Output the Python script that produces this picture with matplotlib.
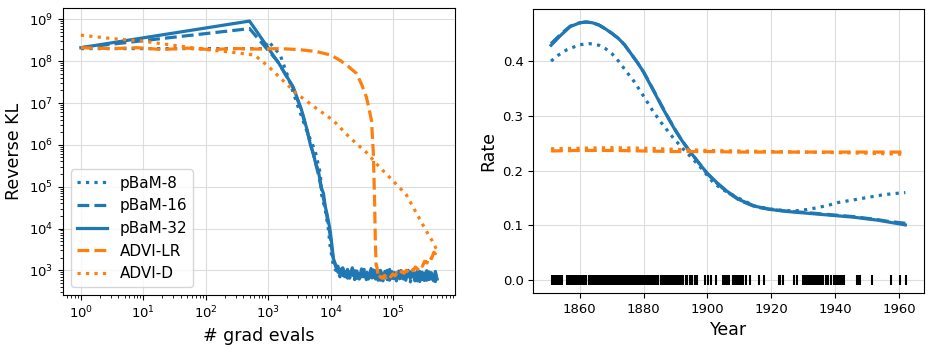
import numpy as np
import matplotlib.pyplot as plt
from matplotlib.ticker import NullFormatter

#####################################################################################################
# Left panel: reverse KL vs number of gradient evaluations

blue = "#1f77b4"
orange = "#ff7f0e"

# pBaM-32 (solid)
p32_x = [1, 500, 1500, 2500, 3400, 4200, 4700, 5300, 5600, 6300, 7100, 7600, 8100, 8800, 9800, 11000, 12000]
p32_y = [2.1e8, 9.1e8, 8.5e7, 2.4e7, 6.8e6, 2.2e6, 1.0e6, 6.0e5, 4.0e5, 2.4e5, 9.0e4, 7.0e4, 3.5e4, 2.0e4, 8.5e3, 1.9e3, 1.3e3]

# pBaM-16 (dashed)
p16_x = [1, 500, 1400, 2400, 3300, 4500, 5400, 6200, 7200, 8200, 9500, 10800, 12000]
p16_y = [2.1e8, 6.0e8, 1.0e8, 2.6e7, 7.5e6, 1.4e6, 5.0e5, 2.2e5, 8.0e4, 3.0e4, 9.0e3, 2.0e3, 1.2e3]

# pBaM-8 (dotted)
p8_x = [1, 850, 1000, 1550, 2100, 3000, 4100, 5600, 6800, 7100, 8200, 9100, 9800, 11000, 12000]
p8_y = [2.0e8, 2.0e8, 3.0e8, 1.4e8, 3.9e7, 8.0e6, 2.2e6, 7.2e5, 2.0e5, 6.5e4, 2.6e4, 1.0e4, 3.5e3, 1.3e3, 1.0e3]

# shared evaluation grid for the noisy tails of pBaM
tail_x = [13000, 14000, 15500, 17000, 18500, 20000, 22000, 24000, 26000, 28500, 31000, 34000, 37000,
          40000, 44000, 48000, 52000, 57000, 62000, 68000, 74000, 80000, 87000, 95000, 103000, 112000,
          122000, 133000, 145000, 158000, 172000, 187000, 204000, 222000, 242000, 264000, 288000,
          314000, 342000, 372000, 405000, 440000, 470000, 500000]
p32_tail = [1250, 800, 1150, 700, 1050, 720, 1150, 680, 950, 620, 1080, 700, 900, 620, 1100, 750, 980,
            580, 1000, 700, 920, 600, 1050, 650, 880, 560, 960, 700, 900, 580, 1000, 640, 870, 560,
            950, 620, 900, 570, 980, 600, 880, 560, 940, 620]
p16_tail = [900, 1200, 750, 1100, 650, 1000, 760, 1080, 640, 990, 700, 1050, 600, 980, 680, 1020, 620,
            950, 580, 900, 680, 1000, 580, 930, 640, 880, 560, 990, 620, 850, 580, 920, 660, 870,
            560, 940, 600, 860, 580, 920, 620, 880, 540, 800]
p8_tail = [1000, 700, 1100, 620, 900, 650, 980, 600, 1050, 700, 850, 580, 1000, 650, 880, 560, 920, 640,
           860, 560, 950, 620, 830, 560, 900, 600, 840, 540, 880, 620, 820, 530, 900, 580, 840, 540,
           880, 600, 820, 530, 860, 580, 820, 600]

# ADVI-LR (dashed)
lr_x = [1, 3, 8, 20, 50, 120, 300, 700, 1500, 3000, 5900, 10000, 14000, 19000, 25700, 31000, 37000,
        41000, 44700, 47900, 50000, 51500, 53000,
        54000, 58000, 62000, 67000, 72000, 78000, 84000, 91000, 98000, 106000, 115000, 125000, 136000,
        148000, 161000, 175000, 190000, 207000, 225000, 245000, 267000, 291000, 317000, 345000,
        375000, 408000, 444000, 470000, 500000]
lr_y = [2.1e8, 2.0e8, 2.1e8, 1.9e8, 2.05e8, 1.9e8, 2.0e8, 1.95e8, 2.0e8, 1.9e8, 1.7e8, 1.4e8, 1.05e8,
        7.5e7, 5.1e7, 2.8e7, 1.4e7, 7.0e6, 3.8e6, 6.0e5, 5.0e4, 5.0e3, 1.3e3,
        1300, 650, 720, 640, 760, 680, 800, 700, 820, 740, 880, 780, 950, 850, 1000, 900, 1100, 980,
        1200, 1050, 1350, 1250, 1650, 1500, 2100, 1900, 2700, 2500, 3400]

# ADVI-D (dotted)
d_x = [1, 3, 10, 30, 100, 300, 600, 1000, 1700, 2800, 5900, 11000, 20000, 37000, 57000, 100000,
       160000, 235000, 340000, 420000, 470000, 500000]
d_y = [4.2e8, 3.5e8, 3.0e8, 2.4e8, 1.9e8, 1.6e8, 1.4e8, 7.5e7, 3.5e7, 1.7e7, 7.4e6, 3.8e6, 1.5e6,
       6.6e5, 3.2e5, 1.35e5, 6.5e4, 2.3e4, 8.5e3, 5.0e3, 3.6e3, 3.0e3]

kl_xticks = [1e0, 1e1, 1e2, 1e3, 1e4, 1e5]
kl_yticks = [1e3, 1e4, 1e5, 1e6, 1e7, 1e8, 1e9]

#####################################################################################################
# Right panel: estimated rate vs year

yr_p32 = [1851, 1854, 1857, 1860, 1862, 1864, 1866, 1868, 1870, 1872, 1874, 1876, 1878, 1880, 1882,
          1884, 1886, 1888, 1890, 1892, 1894, 1896, 1898, 1900, 1903, 1906, 1910, 1915, 1920, 1925,
          1930, 1936, 1942, 1946, 1950, 1953, 1956, 1959, 1962]
rate_p32 = [0.429, 0.447, 0.463, 0.470, 0.4715, 0.470, 0.466, 0.459, 0.451, 0.442, 0.430, 0.414, 0.398,
            0.380, 0.358, 0.336, 0.314, 0.293, 0.273, 0.255, 0.239, 0.224, 0.209, 0.195, 0.178, 0.163,
            0.147, 0.135, 0.129, 0.1255, 0.123, 0.120, 0.117, 0.115, 0.112, 0.110, 0.107, 0.104, 0.101]
rate_p16 = [0.432, 0.449, 0.464, 0.470, 0.4715, 0.470, 0.466, 0.459, 0.451, 0.442, 0.430, 0.414, 0.398,
            0.380, 0.359, 0.337, 0.315, 0.294, 0.274, 0.255, 0.239, 0.224, 0.209, 0.194, 0.177, 0.162,
            0.146, 0.134, 0.129, 0.126, 0.124, 0.121, 0.118, 0.116, 0.113, 0.111, 0.108, 0.106, 0.104]

yr_p8 = [1851, 1853, 1856, 1860, 1863, 1866, 1868, 1870, 1872, 1875, 1877, 1880, 1883, 1886, 1889,
         1892, 1895, 1898, 1902, 1905, 1909, 1915, 1921, 1925, 1928, 1931, 1934, 1938, 1941, 1945,
         1949, 1952, 1955, 1958, 1962]
rate_p8 = [0.400, 0.410, 0.421, 0.430, 0.432, 0.429, 0.423, 0.414, 0.401, 0.378, 0.363, 0.336, 0.308,
           0.284, 0.262, 0.242, 0.224, 0.205, 0.177, 0.165, 0.152, 0.135, 0.129, 0.127, 0.127, 0.129,
           0.132, 0.137, 0.142, 0.146, 0.150, 0.153, 0.156, 0.158, 0.160]

yr_advi = [1851, 1860, 1870, 1880, 1890, 1900, 1910, 1920, 1930, 1940, 1950, 1962]
rate_lr = [0.236, 0.237, 0.237, 0.236, 0.235, 0.235, 0.234, 0.234, 0.234, 0.234, 0.234, 0.234]
rate_d = [0.240, 0.241, 0.242, 0.241, 0.239, 0.237, 0.236, 0.235, 0.234, 0.233, 0.232, 0.230]

# disaster dates (rug)
events = [1851.20, 1851.63, 1851.97, 1851.98, 1852.31, 1852.35, 1852.36, 1852.39, 1852.98, 1853.20,
          1853.23, 1853.32, 1853.50, 1854.14, 1854.55,
          1856.03, 1856.37, 1856.55, 1856.60, 1857.23, 1857.43, 1857.97, 1858.00, 1858.33, 1858.34,
          1858.55, 1858.70, 1858.87, 1859.14,
          1859.75, 1860.22, 1860.38, 1860.42, 1860.45, 1860.87, 1860.92, 1861.13, 1861.24, 1861.34,
          1862.02, 1862.09, 1862.95, 1863.22, 1863.23, 1863.46, 1863.48, 1863.75, 1864.01, 1864.33,
          1865.10, 1865.19, 1865.26, 1865.31, 1866.04, 1866.11, 1866.24, 1866.25, 1866.27, 1866.33,
          1866.38, 1866.49, 1866.52, 1867.01, 1867.10, 1867.42, 1868.02, 1868.09, 1868.21, 1868.40,
          1868.54, 1868.78, 1869.03, 1869.23, 1869.42, 1869.62, 1869.67, 1869.80, 1869.91, 1870.20,
          1870.26, 1870.31, 1870.55, 1871.04, 1871.24, 1871.44, 1871.57, 1872.04, 1872.10, 1872.22,
          1872.33, 1873.04, 1873.21, 1873.43, 1873.62, 1873.84, 1874.28, 1874.53, 1875.02, 1875.22,
          1875.24, 1875.32, 1875.56, 1875.80, 1876.11, 1876.16, 1876.27, 1876.55, 1876.63, 1877.05,
          1877.15, 1877.32, 1877.40, 1877.64, 1878.23, 1878.25, 1878.72, 1878.76, 1878.79, 1878.86,
          1879.17, 1879.35, 1879.37, 1879.74, 1879.96, 1880.09, 1880.17, 1880.56, 1880.73, 1880.81,
          1880.98, 1881.05, 1881.10, 1881.22, 1881.43, 1881.72, 1882.20, 1882.33, 1882.45, 1882.51,
          1882.76, 1883.01, 1883.24, 1883.58, 1883.70, 1883.78, 1883.97, 1884.01, 1884.24, 1884.35,
          1884.64, 1885.42, 1885.49, 1885.77, 1886.03, 1886.40, 1886.56, 1886.99, 1887.09, 1887.35,
          1888.06, 1888.45, 1889.02, 1889.46, 1889.79, 1890.28, 1890.72, 1891.36, 1891.85, 1892.30,
          1893.16, 1893.69, 1894.45, 1895.22, 1895.97, 1896.02, 1896.39, 1896.58,
          1899.18, 1900.20, 1901.10, 1902.60, 1905.00, 1905.42, 1905.80, 1906.12, 1906.88, 1907.90,
          1908.05, 1908.40, 1908.90, 1909.20, 1909.70, 1910.10, 1910.70, 1911.05, 1912.20, 1913.20,
          1916.30, 1917.70, 1922.35, 1922.60, 1923.55, 1927.00, 1928.10, 1929.95, 1930.40, 1931.00,
          1931.50, 1931.90, 1932.30, 1932.80, 1933.30, 1933.90, 1934.40, 1935.10, 1935.60, 1936.30,
          1937.00, 1937.70, 1938.60, 1939.70, 1940.30, 1940.70, 1941.20, 1941.50, 1941.90, 1942.40,
          1942.85, 1946.85, 1947.10, 1947.40, 1947.75, 1951.40, 1957.60, 1960.30, 1962.20]

#####################################################################################################
print("Plotting")

lw = 2.3
tick_fs = 9.5
label_fs = 12.5

fig = plt.figure(figsize=(9.34, 3.49), dpi=100)

ax = fig.add_axes([0.0675, 0.155, 0.4195, 0.822])
ax.plot(p8_x + tail_x, p8_y + p8_tail, color=blue, ls=":", lw=lw, label="pBaM-8")
ax.plot(p16_x + tail_x, p16_y + p16_tail, color=blue, ls="--", lw=lw, label="pBaM-16")
ax.plot(p32_x + tail_x, p32_y + p32_tail, color=blue, ls="-", lw=lw, label="pBaM-32")
ax.plot(lr_x, lr_y, color=orange, ls="--", lw=lw, label="ADVI-LR")
ax.plot(d_x, d_y, color=orange, ls=":", lw=lw, label="ADVI-D")
ax.set_xscale("log")
ax.set_yscale("log")
xmin, xmax = ax.get_xlim()
ymin, ymax = ax.get_ylim()
ax.set_xticks(kl_xticks)
ax.set_yticks(kl_yticks)
ax.set_xlim(xmin, xmax)
ax.set_ylim(ymin, ymax)
ax.xaxis.set_minor_formatter(NullFormatter())
ax.yaxis.set_minor_formatter(NullFormatter())
ax.grid(True, color="#dddddd", lw=0.8)
ax.set_xlabel("# grad evals", fontsize=label_fs)
ax.set_ylabel("Reverse KL", fontsize=label_fs)
ax.tick_params(labelsize=tick_fs)
ax.legend(loc="lower left", fontsize=11)

ax2 = fig.add_axes([0.571, 0.16, 0.418, 0.814])
ax2.plot(yr_p8, rate_p8, color=blue, ls=":", lw=lw)
ax2.plot(yr_p32, rate_p16, color=blue, ls="--", lw=lw)
ax2.plot(yr_p32, rate_p32, color=blue, ls="-", lw=lw)
ax2.plot(yr_advi, rate_lr, color=orange, ls="--", lw=lw)
ax2.plot(yr_advi, rate_d, color=orange, ls=":", lw=lw)
ax2.plot(events, np.zeros(len(events)), "|", color="black", ms=7, mew=1.5)
ax2.grid(True, color="#dddddd", lw=0.8)
ax2.set_xlabel("Year", fontsize=label_fs)
ax2.set_ylabel("Rate", fontsize=label_fs)
ax2.set_yticks([0.0, 0.1, 0.2, 0.3, 0.4])
ax2.tick_params(labelsize=tick_fs)

fig.savefig("out.png", dpi=100)
print("All done!")
